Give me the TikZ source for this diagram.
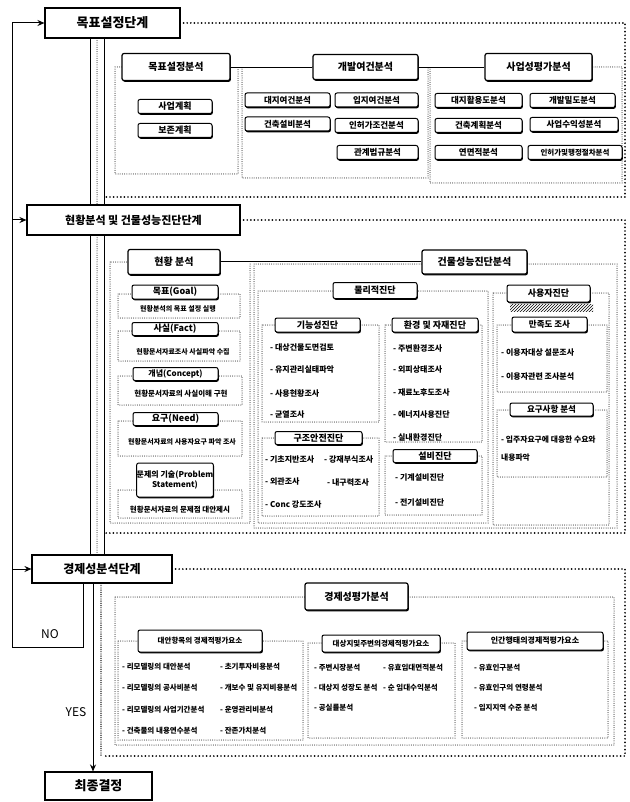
\documentclass[tikz,border=0pt]{standalone}
\usepackage{fontspec}
\setmainfont{Noto Sans CJK KR}
\usetikzlibrary{positioning, arrows.meta, shadows, patterns}

\begin{document}
\begin{tikzpicture}[x=1pt, y=-1pt,
    stage/.style={rectangle, draw=black, line width=1.1pt, fill=white, inner sep=0pt, font=\fontsize{13}{15}\selectfont\bfseries},
    head/.style={rectangle, rounded corners=2pt, draw=black, line width=1.2pt, fill=white, inner sep=0pt, font=\fontsize{10}{12}\selectfont\bfseries,
        drop shadow={shadow xshift=0.8pt, shadow yshift=-1.3pt, fill=black, opacity=1}},
    subhead/.style={head, line width=1pt, font=\fontsize{9}{10}\selectfont\bfseries},
    itembox/.style={head, line width=1pt, font=\fontsize{8.5}{10}\selectfont\bfseries},
    txt/.style={anchor=west, inner sep=0pt, font=\fontsize{8}{9}\selectfont\bfseries},
    etxt/.style={txt, font=\fontsize{7.5}{9}\selectfont\bfseries},
    note/.style={inner sep=0pt, font=\fontsize{7}{8}\selectfont\bfseries},
    frame/.style={draw=black, dash pattern=on 0pt off 2.2pt, line cap=round, line width=1pt},
    outer/.style={draw=black, dash pattern=on 0pt off 3.6pt, line cap=round, line width=1.9pt},
    link/.style={draw=black, double, double distance=1pt, line width=0.9pt},
    arr/.style={-{Stealth[length=7pt, width=6pt]}, line width=1pt},
]
\useasboundingbox (0,0) rectangle (629,802);

% === Outer stage frames ===
\draw[outer] (180,23) -- (625,23) -- (625,197) -- (104,197);
\draw[outer] (240,220) -- (625,220) -- (625,533) -- (104,533);
\draw[outer] (172,569) -- (625,569) -- (625,756) -- (104,756);

% === Stage 1 frames ===
\draw[frame] (115,67) rectangle (238,174);
\draw[frame] (242,67) rectangle (428,178);
\draw[frame] (430,67) rectangle (622,183);

% === Stage 2 frames ===
\draw[frame] (110,262) rectangle (250,523);
\draw[frame] (254,264) rectangle (617,528);
\draw[frame] (258,291) rectangle (488,523);
\draw[frame] (493,293) rectangle (609,525);
\draw[frame] (262,325) rectangle (379,422);
\draw[frame] (385,325) rectangle (482,442);
\draw[frame] (262,438) rectangle (379,516);
\draw[frame] (385,456) rectangle (482,515);
\draw[frame] (497,325) rectangle (607,392);
\draw[frame] (497,410) rectangle (607,477);
\draw[frame] (118,294) rectangle (240,318);
\draw[frame] (118,331) rectangle (240,361);
\draw[frame] (118,376) rectangle (242,405);
\draw[frame] (118,421) rectangle (242,456);
\draw[frame] (118,490) rectangle (242,518);

% === Stage 3 frames ===
\draw[frame] (115,597) rectangle (614,745);
\draw[frame] (118,641) rectangle (303,740);
\draw[frame] (308,643) rectangle (455,738);
\draw[frame] (462,641) rectangle (608,738);

% === Stage boxes ===
\node[stage, minimum width=135, minimum height=30] (s1) at (112.5,23) {목표설정단계};
\node[stage, minimum width=213, minimum height=30, font=\fontsize{11}{13}\selectfont\bfseries] (s2) at (133.5,220) {현황분석 및 건물성능진단단계};
\node[stage, minimum width=140, minimum height=28, font=\fontsize{12}{14}\selectfont\bfseries] (s3) at (102,569) {경제성분석단계};
\node[stage, minimum width=107, minimum height=28] (s4) at (98.5,786) {최종결정};

% === Trunk ===
\coordinate (tl) at (90,0);
\coordinate (tm) at (97,0);
\coordinate (tr) at (104,0);
\coordinate (bl) at (93,0);
\coordinate (bm) at (101,0);
\draw[line width=1pt] (s1.south -| tl) -- (s2.north -| tl);
\draw[line width=1pt] (s1.south -| tr) -- (s2.north -| tr);
\draw[frame] (s1.south -| tm) -- (s2.north -| tm);
\draw[line width=1pt] (s2.south -| tl) -- (s3.north -| tl);
\draw[line width=1pt] (s2.south -| tr) -- (s3.north -| tr);
\draw[frame] (s2.south -| tm) -- (s3.north -| tm);
\draw[arr] (s3.south -| bl) -- (s4.north -| bl);
\coordinate (be) at (101,756);
\draw[frame, line width=1.4pt] (s3.south -| bm) -- (be);
\node[font=\fontsize{12}{14}\selectfont] (yes) at (76,712) {YES};

% === NO loop ===
\coordinate (nb) at (83,647);
\coordinate (nl) at (12,647);
\draw[arr] (s3.south -| nb) -- (nb) -- (nl) |- (s1.west);
\draw[arr] (nl |- s2.west) -- (s2.west);
\draw[arr] (nl |- s3.west) -- (s3.west);
\node[font=\fontsize{12}{14}\selectfont] (no) at (50,634) {NO};

% === Stage 1: goal setting ===
\node[head, minimum width=108, minimum height=27] (h1) at (176,67) {목표설정분석};
\node[head, minimum width=105, minimum height=25] (h2) at (365.5,67) {개발여건분석};
\node[head, minimum width=107, minimum height=27] (h3) at (538.5,67) {사업성평가분석};
\draw[link] (h1.east) -- (h2.west);
\draw[link] (h2.east) -- (h3.west);

\node[itembox, minimum width=74, minimum height=14, font=\fontsize{9}{10}\selectfont\bfseries] (b11) at (175,106.5) {사업계획};
\node[itembox, minimum width=74, minimum height=14, font=\fontsize{9}{10}\selectfont\bfseries] (b12) at (175,130.5) {보존계획};

\node[itembox, minimum width=85, minimum height=14] (b21) at (287.5,100) {대지여건분석};
\node[itembox, minimum width=85, minimum height=14] (b22) at (287.5,124) {건축설비분석};
\node[itembox, minimum width=83, minimum height=14] (b23) at (376.5,100) {입지여건분석};
\node[itembox, minimum width=83, minimum height=14] (b24) at (376.5,125.5) {인허가조건분석};
\node[itembox, minimum width=81, minimum height=14] (b25) at (377.5,152.5) {관계법규분석};

\node[itembox, minimum width=87, minimum height=14] (b31) at (478.5,100.5) {대지활용도분석};
\node[itembox, minimum width=85, minimum height=14] (b32) at (572.5,100.5) {개발밀도분석};
\node[itembox, minimum width=87, minimum height=14] (b33) at (478.5,125.5) {건축계획분석};
\node[itembox, minimum width=88, minimum height=14] (b34) at (574,124.5) {사업수익성분석};
\node[itembox, minimum width=87, minimum height=14] (b35) at (478.5,152.5) {연면적분석};
\node[itembox, minimum width=94, minimum height=14, font=\fontsize{7.5}{9}\selectfont\bfseries] (b36) at (575,152.5) {인허가및행정절차분석};

% === Stage 2: current state ===
\node[head, minimum width=92, minimum height=25] (h4) at (174,262) {현황 분석};
\node[head, minimum width=105, minimum height=24] (h5) at (474.5,262) {건물성능진단분석};
\draw[link] (h4.east) -- (h5.west);

\node[subhead, minimum width=86, minimum height=14] (g1) at (175,292) {목표(Goal)};
\node[note] (gt1) at (178,309) {현황분석의 목표 설정 실행};
\node[subhead, minimum width=86, minimum height=13] (g2) at (175,329) {사실(Fact)};
\node[note] (gt2) at (183,352) {현황문서자료조사 사실파악 수집};
\node[subhead, minimum width=85, minimum height=13, font=\fontsize{8}{9}\selectfont\bfseries] (g3) at (175.5,374) {개념(Concept)};
\node[note, font=\fontsize{7.5}{8}\selectfont\bfseries] (gt3) at (181,394) {현황문서자료의 사실이해 구현};
\node[subhead, minimum width=85, minimum height=13] (g4) at (175.5,419) {요구(Need)};
\node[note] (gt4) at (182,442) {현황문서자료의 사용자요구 파악 조사};
\node[subhead, minimum width=76, minimum height=34, align=center, font=\fontsize{8}{10.5}\selectfont\bfseries] (g5) at (175,480) {문제의 기술(Problem\\Statement)};
\node[note, font=\fontsize{7.5}{8}\selectfont\bfseries] (gt5) at (180,510) {현황문서자료의 문제점 대안제시};

% === Stage 2: physical diagnosis ===
\node[subhead, minimum width=84, minimum height=16] (p1) at (375,290.5) {물리적진단};
\node[subhead, minimum width=85, minimum height=14] (p2) at (317.5,325) {기능성진단};
\node[txt] (c1) at (270,348) {- 대상건물도면검토};
\node[txt] (c2) at (270,370) {- 유지관리실태파악};
\node[txt] (c3) at (270,393) {- 사용현황조사};
\node[txt] (c4) at (270,415) {- 균열조사};
\node[subhead, minimum width=86, minimum height=14] (p3) at (435,325) {환경 및 자재진단};
\node[txt] (d1) at (393,348) {- 주변환경조사};
\node[txt] (d2) at (393,370) {- 외피상태조사};
\node[txt] (d3) at (393,393) {- 재료노후도조사};
\node[txt] (d4) at (393,415) {- 에너지사용진단};
\node[txt] (d5) at (393,437) {- 실내환경진단};
\node[subhead, minimum width=87, minimum height=13] (p4) at (318.5,438) {구조안전진단};
\node[txt] (k1) at (265,460) {- 기초지반조사};
\node[txt] (k2) at (324,460) {- 강재부식조사};
\node[txt] (k3) at (265,482) {- 외관조사};
\node[txt] (k4) at (327,482) {- 내구력조사};
\node[txt] (k5) at (265,505) {- Conc 강도조사};
\node[subhead, minimum width=84, minimum height=13] (p5) at (435,456) {설비진단};
\node[txt] (m1) at (395,478) {- 기계설비진단};
\node[txt] (m2) at (395,503) {- 전기설비진단};

% === Stage 2: user diagnosis ===
\node[subhead, minimum width=83, minimum height=17] (u1) at (548.5,293.5) {사용자진단};
\fill[pattern=north east lines] (510,304) rectangle (593,311);
\node[subhead, minimum width=75, minimum height=15, font=\fontsize{8.5}{10}\selectfont\bfseries] (u2) at (549.5,324.5) {만족도 조사};
\node[txt] (v1) at (501,353) {- 이용자대상 설문조사};
\node[txt] (v2) at (501,377) {- 이용자관련 조사분석};
\node[subhead, minimum width=83, minimum height=13, font=\fontsize{8.5}{10}\selectfont\bfseries] (u3) at (551.5,409.5) {요구사항 분석};
\node[txt, font=\fontsize{7.8}{9}\selectfont\bfseries] (w1) at (501,440) {- 입주자요구에 대응한 수요와};
\node[txt, font=\fontsize{7.8}{9}\selectfont\bfseries] (w2) at (501,458) {내용파악};

% === Stage 3: economics ===
\node[head, minimum width=103, minimum height=27] (h6) at (356.5,596.5) {경제성평가분석};
\node[subhead, minimum width=124, minimum height=22, font=\fontsize{7.5}{9}\selectfont\bfseries] (e1) at (200,641) {대안항목의 경제적평가요소};
\node[etxt] (f1) at (122,667) {- 리모델링의 대안분석};
\node[etxt] (f2) at (122,688) {- 리모델링의 공사비분석};
\node[etxt] (f3) at (122,710) {- 리모델링의 사업기간분석};
\node[etxt] (f4) at (122,731) {- 건축물의 내용연수분석};
\node[etxt] (f5) at (220,667) {- 초기투자비용분석};
\node[etxt] (f6) at (220,688) {- 개보수 및 유지비용분석};
\node[etxt] (f7) at (220,710) {- 운영관리비분석};
\node[etxt] (f8) at (220,731) {- 잔존가치분석};

\node[subhead, minimum width=118, minimum height=17, font=\fontsize{7.5}{9}\selectfont\bfseries] (e2) at (381,643.5) {대상지및주변의경제적평가요소};
\node[etxt] (q1) at (314,668) {- 주변시장분석};
\node[etxt] (q2) at (383,668) {- 유효임대면적분석};
\node[etxt] (q3) at (314,688) {- 대상지 성장도 분석};
\node[etxt] (q4) at (383,688) {- 순 임대수익분석};
\node[etxt] (q5) at (314,708) {- 공실률분석};

\node[subhead, minimum width=136, minimum height=18, font=\fontsize{8}{9}\selectfont\bfseries] (e3) at (535,641) {인간행태의경제적평가요소};
\node[etxt] (r1) at (474,668) {- 유효인구분석};
\node[etxt] (r2) at (474,688) {- 유효인구의 연령분석};
\node[etxt] (r3) at (474,708) {- 입지지역 수준 분석};

\end{tikzpicture}
\end{document}
